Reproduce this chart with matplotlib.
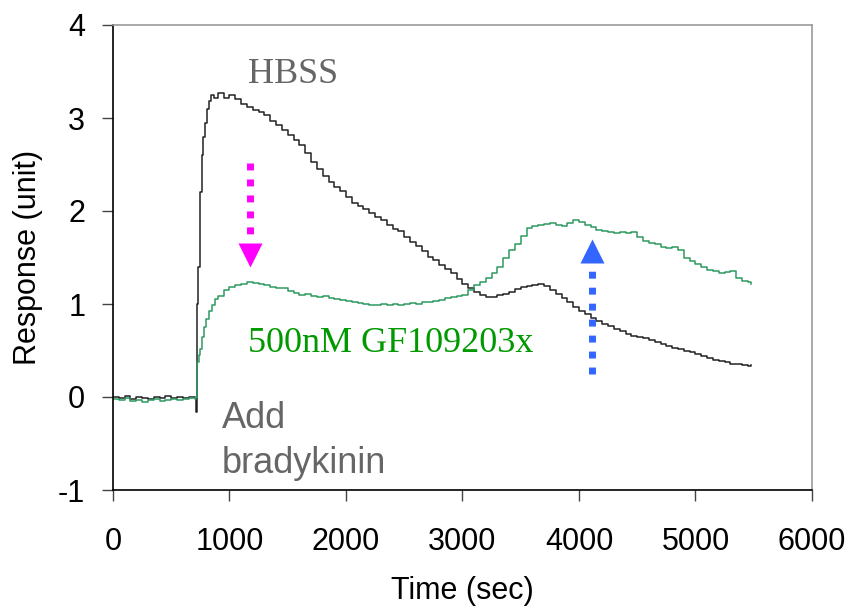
import numpy as np
import matplotlib
matplotlib.use("Agg")
import matplotlib.pyplot as plt

# HBSS trace (black), time in sec
hbss_t = [0, 50, 100, 150, 200, 250, 300, 350, 400, 450, 500, 550, 600, 650,
          700, 715, 720, 730, 745, 760, 775, 790, 805, 820, 840, 870, 900, 950,
          1000, 1050, 1100, 1150, 1200, 1250, 1300, 1350, 1400, 1450, 1500,
          1550, 1600, 1650, 1700, 1750, 1800, 1850, 1900, 1950, 2000, 2050,
          2100, 2150, 2200, 2250, 2300, 2350, 2400, 2450, 2500, 2550, 2600,
          2650, 2700, 2750, 2800, 2850, 2900, 2950, 3000, 3050, 3100, 3150,
          3200, 3250, 3300, 3350, 3400, 3450, 3500, 3550, 3600, 3650, 3700,
          3750, 3800, 3850, 3900, 3950, 4000, 4050, 4100, 4150, 4200, 4250,
          4300, 4350, 4400, 4450, 4500, 4550, 4600, 4650, 4700, 4750, 4800,
          4850, 4900, 4950, 5000, 5050, 5100, 5150, 5200, 5250, 5300, 5350,
          5400, 5450, 5480]
hbss_y = [0.00, -0.01, 0.01, -0.02, 0.00, -0.01, -0.02, 0.00, -0.01, 0.01,
          -0.01, 0.00, -0.01, 0.00,
          -0.01, -0.16, 1.00, 1.40, 2.20, 2.60, 2.80, 2.95, 3.10, 3.18, 3.25,
          3.22, 3.27, 3.22,
          3.25, 3.20, 3.15, 3.12, 3.09, 3.06, 3.03, 2.97, 2.93, 2.87, 2.82,
          2.76, 2.71, 2.62, 2.53, 2.45, 2.38, 2.31, 2.26, 2.21, 2.15, 2.09,
          2.05, 2.02, 1.98, 1.94, 1.90, 1.85, 1.81, 1.78, 1.72, 1.67, 1.62,
          1.57, 1.51, 1.47, 1.42, 1.38, 1.33, 1.27, 1.21, 1.17, 1.13, 1.10,
          1.08, 1.08, 1.10, 1.11, 1.13, 1.16, 1.18, 1.19, 1.20, 1.21, 1.19,
          1.15, 1.11, 1.06, 1.02, 0.97, 0.93, 0.89, 0.85, 0.82, 0.79, 0.76,
          0.73, 0.71, 0.68, 0.66, 0.64, 0.63, 0.61, 0.59, 0.57, 0.55, 0.53,
          0.52, 0.50, 0.48, 0.46, 0.44, 0.42, 0.40, 0.39, 0.38, 0.36, 0.35,
          0.34, 0.33, 0.34]

# 500nM GF109203x trace (green)
gf_t = [0, 50, 100, 150, 200, 250, 300, 350, 400, 450, 500, 550, 600, 650,
        700, 712, 720, 735, 750, 765, 780, 800, 825, 850, 875, 900, 950,
        1000, 1050, 1100, 1150, 1200, 1250, 1300, 1350, 1400, 1450, 1500,
        1550, 1600, 1650, 1700, 1750, 1800, 1850, 1900, 1950, 2000, 2050,
        2100, 2150, 2200, 2250, 2300, 2350, 2400, 2450, 2500, 2550, 2600,
        2650, 2700, 2750, 2800, 2850, 2900, 2950, 3000, 3050, 3100, 3150,
        3200, 3250, 3300, 3350, 3400, 3450, 3500, 3550, 3600, 3650, 3700,
        3750, 3800, 3850, 3900, 3950, 4000, 4050, 4100, 4150, 4200, 4250,
        4300, 4350, 4400, 4450, 4500, 4550, 4600, 4650, 4700, 4750, 4800,
        4850, 4900, 4950, 5000, 5050, 5100, 5150, 5200, 5250, 5300, 5350,
        5400, 5450, 5480]
gf_y = [-0.02, -0.03, -0.01, -0.04, -0.03, -0.05, -0.03, -0.02, -0.04, -0.03,
        -0.02, -0.03, -0.02, -0.01,
        -0.02, 0.00, 0.38, 0.45, 0.52, 0.65, 0.75, 0.84, 0.92, 0.99, 1.05,
        1.09, 1.15,
        1.18, 1.20, 1.21, 1.24, 1.23, 1.21, 1.20, 1.18, 1.17, 1.17, 1.14,
        1.12, 1.10, 1.11, 1.09, 1.08, 1.09, 1.06, 1.05, 1.04, 1.03, 1.02,
        1.01, 1.00, 0.99, 0.99, 1.00, 0.99, 1.00, 0.99, 1.00, 1.01, 1.00,
        1.02, 1.02, 1.03, 1.04, 1.06, 1.07, 1.09, 1.10, 1.15, 1.20, 1.24,
        1.28, 1.33, 1.40, 1.49, 1.58, 1.64, 1.73, 1.82, 1.84, 1.85, 1.86,
        1.87, 1.85, 1.84, 1.87, 1.90, 1.88, 1.85, 1.83, 1.80, 1.79, 1.77,
        1.76, 1.77, 1.76, 1.77, 1.72, 1.68, 1.66, 1.64, 1.61, 1.60, 1.61,
        1.58, 1.50, 1.46, 1.43, 1.40, 1.37, 1.35, 1.33, 1.34, 1.36, 1.28,
        1.25, 1.24, 1.21]

x_ticks = [0, 1000, 2000, 3000, 4000, 5000, 6000]
y_ticks = [-1, 0, 1, 2, 3, 4]

# dotted arrows: (x, shaft start, shaft end, head centre)
down_arrow = (1176, 2.52, 1.70, 1.53)
up_arrow = (4112, 0.25, 1.38, 1.575)

fig = plt.figure(figsize=(8.53, 6.10), dpi=100)
ax = fig.add_axes([113 / 853, 1 - 490 / 610, 699 / 853, 465 / 610])

ax.plot(hbss_t, hbss_y, color='#222222', lw=1.1, drawstyle='steps-post')
ax.plot(gf_t, gf_y, color='#2e9960', lw=1.1, drawstyle='steps-post')

# magenta arrow (down)
x, y0, y1, yh = down_arrow
ax.plot([x, x], [y0, y1], color='#ff00ff', lw=5, linestyle=(0, (1, 1.3)),
        dash_capstyle='butt', solid_capstyle='butt')
ax.plot([x], [yh], marker='v', markersize=17, color='#ff00ff', mec='none')

# blue arrow (up)
x, y0, y1, yh = up_arrow
ax.plot([x, x], [y0, y1], color='#3366ff', lw=5, linestyle=(0, (1, 1.3)),
        dash_capstyle='butt', solid_capstyle='butt')
ax.plot([x], [yh], marker='^', markersize=17, color='#3366ff', mec='none')

ax.text(1545, 3.376, 'HBSS', family='Liberation Serif', fontsize=26,
        color='#666666', ha='center', va='baseline')
ax.text(1159, 0.484, '500nM GF109203x', family='Liberation Serif',
        fontsize=26, color='#009900', ha='left', va='baseline')
ax.text(936, -0.333, 'Add', family='Liberation Sans', fontsize=26,
        color='#666666', ha='left', va='baseline')
ax.text(936, -0.817, 'bradykinin', family='Liberation Sans', fontsize=26,
        color='#666666', ha='left', va='baseline')

ax.set_xlim(0, 6000)
ax.set_ylim(-1, 4)
ax.set_xticks(x_ticks)
ax.set_yticks(y_ticks)
ax.set_xticklabels([str(v) for v in x_ticks], family='Liberation Sans', fontsize=22)
ax.set_yticklabels([str(v) for v in y_ticks], family='Liberation Sans', fontsize=22)
ax.tick_params(axis='x', direction='out', length=8, width=1, pad=19, color='#444444')
ax.tick_params(axis='y', direction='out', length=8, width=1, pad=12, color='#444444')

ax.set_xlabel('Time (sec)', family='Liberation Sans', fontsize=22)
ax.set_ylabel('Response (unit)', family='Liberation Sans', fontsize=22)
ax.xaxis.set_label_coords(0.5, -0.185)
ax.yaxis.set_label_coords(-0.1, 0.5)

for side in ['left', 'bottom']:
    ax.spines[side].set_color('black')
    ax.spines[side].set_linewidth(1.2)
for side in ['top', 'right']:
    ax.spines[side].set_color('#999999')
    ax.spines[side].set_linewidth(1.2)

fig.savefig('out.png', dpi=100)
